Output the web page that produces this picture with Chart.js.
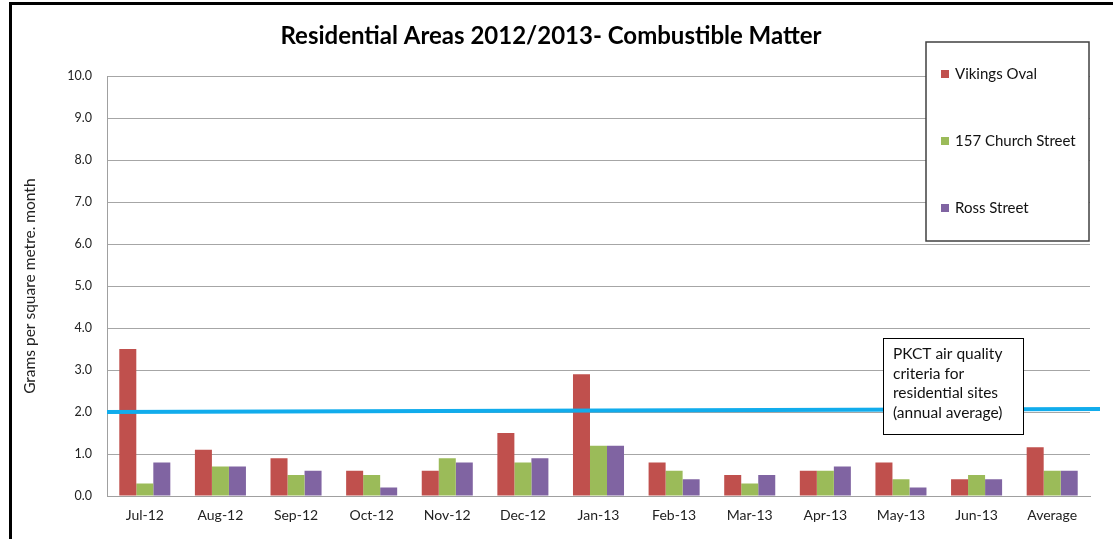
<!DOCTYPE html>
<html>
<head>
<meta charset="utf-8">
<script src="https://cdn.jsdelivr.net/npm/chart.js@4/dist/chart.umd.min.js"></script>
<style>
  html, body { margin: 0; padding: 0; background: #fff; }
  #wrap { width: 1113px; height: 539px; position: relative; }
</style>
</head>
<body>
<div id="wrap"><canvas id="c" width="1113" height="539"></canvas></div>
<script>
const chartTitle = 'Residential Areas 2012/2013- Combustible Matter';
const yAxisTitle = 'Grams per square metre. month';
const categories = ['Jul-12','Aug-12','Sep-12','Oct-12','Nov-12','Dec-12','Jan-13','Feb-13','Mar-13','Apr-13','May-13','Jun-13','Average'];
const seriesNames = ['Vikings Oval','157 Church Street','Ross Street'];
const vikingsOval   = [3.5, 1.1, 0.9, 0.6, 0.6, 1.5, 2.9, 0.8, 0.5, 0.6, 0.8, 0.4, 1.16];
const churchStreet  = [0.3, 0.7, 0.5, 0.5, 0.9, 0.8, 1.2, 0.6, 0.3, 0.6, 0.4, 0.5, 0.6];
const rossStreet    = [0.8, 0.7, 0.6, 0.2, 0.8, 0.9, 1.2, 0.4, 0.5, 0.7, 0.2, 0.4, 0.6];
const seriesColors  = ['#C0504D', '#9BBB59', '#8064A2'];
const yMin = 0, yMax = 10, yStep = 1;
const criteriaLine = [2.0, 2.07];   // start / end value of the hand-drawn criteria line
const criteriaNote = ['PKCT air quality', 'criteria for', 'residential sites', '(annual average)'];

const FONT = 'Lato, "Open Sans", sans-serif';

const overlay = {
  id: 'overlay',
  afterDatasetsDraw(chart) {
    const ctx = chart.ctx;
    const ca = chart.chartArea;
    const y = chart.scales.y;
    ctx.save();
    // criteria line
    ctx.strokeStyle = '#11ACEC';
    ctx.lineWidth = 4;
    ctx.beginPath();
    ctx.moveTo(ca.left, y.getPixelForValue(criteriaLine[0]));
    ctx.lineTo(ca.right + 10, y.getPixelForValue(criteriaLine[1]));
    ctx.stroke();

    // annotation box
    const bx = 883, by = 338, bw = 140, bh = 96;
    ctx.fillStyle = '#fff';
    ctx.fillRect(bx, by, bw, bh);
    ctx.strokeStyle = '#000';
    ctx.lineWidth = 1;
    ctx.strokeRect(bx + 0.5, by + 0.5, bw, bh);
    ctx.fillStyle = '#111';
    ctx.font = '15.5px ' + FONT;
    ctx.textBaseline = 'middle';
    ctx.textAlign = 'left';
    criteriaNote.forEach((t, i) => ctx.fillText(t, bx + 10, by + 16 + i * 19.7));

    // legend box
    const lx = 926, ly = 42, lw = 163, lh = 199;
    ctx.fillStyle = '#fff';
    ctx.fillRect(lx, ly, lw, lh);
    ctx.strokeStyle = '#404040';
    ctx.lineWidth = 1.5;
    ctx.strokeRect(lx, ly, lw, lh);
    chart.data.datasets.forEach((ds, i) => {
      const cy = 74 + i * 67;
      ctx.fillStyle = ds.backgroundColor;
      ctx.fillRect(941, cy - 4, 8, 8);
      ctx.fillStyle = '#111';
      ctx.font = '15px ' + FONT;
      ctx.fillText(ds.label, 955, cy);
    });

    // outer frame
    ctx.strokeStyle = '#000';
    ctx.lineWidth = 3;
    ctx.beginPath();
    ctx.moveTo(10.5, 539);
    ctx.lineTo(10.5, 3.5);
    ctx.lineTo(1113, 3.5);
    ctx.stroke();
    ctx.restore();
  }
};

new Chart(document.getElementById('c'), {
  type: 'bar',
  data: {
    labels: categories,
    datasets: [
      { label: seriesNames[0], data: vikingsOval,  backgroundColor: seriesColors[0] },
      { label: seriesNames[1], data: churchStreet, backgroundColor: seriesColors[1] },
      { label: seriesNames[2], data: rossStreet,   backgroundColor: seriesColors[2] }
    ]
  },
  options: {
    responsive: false,
    devicePixelRatio: 1,
    animation: false,
    datasets: { bar: { categoryPercentage: 0.675, barPercentage: 1.0 } },
    layout: { padding: { left: 12, right: 23, top: 0, bottom: 0 } },
    plugins: {
      legend: { display: false },
      tooltip: { enabled: false },
      title: {
        display: true,
        text: chartTitle,
        color: '#000',
        font: { family: FONT, size: 24, weight: 'bold', lineHeight: 1.2 },
        padding: { top: 22, bottom: 25.5 }
      }
    },
    scales: {
      x: {
        grid: { display: false, drawTicks: false },
        border: { display: true, color: '#A0A0A0', width: 1 },
        ticks: { color: '#222', font: { family: FONT, size: 14 }, padding: 11, maxRotation: 0 },
        afterFit(scale) { scale.height = 43; }
      },
      y: {
        min: yMin, max: yMax,
        grid: { color: '#A6A6A6', drawTicks: false, lineWidth: 1 },
        border: { display: true, color: '#A0A0A0', width: 1 },
        ticks: {
          stepSize: yStep,
          color: '#222',
          font: { family: FONT, size: 12.5 },
          padding: 15,
          callback: v => Number(v).toFixed(1)
        },
        title: {
          display: true,
          text: yAxisTitle,
          color: '#222',
          font: { family: FONT, size: 15.5 },
          padding: { top: 9, bottom: 0 }
        },
        afterFit(scale) { scale.width = 95; }
      }
    }
  },
  plugins: [overlay]
});
</script>
</body>
</html>
